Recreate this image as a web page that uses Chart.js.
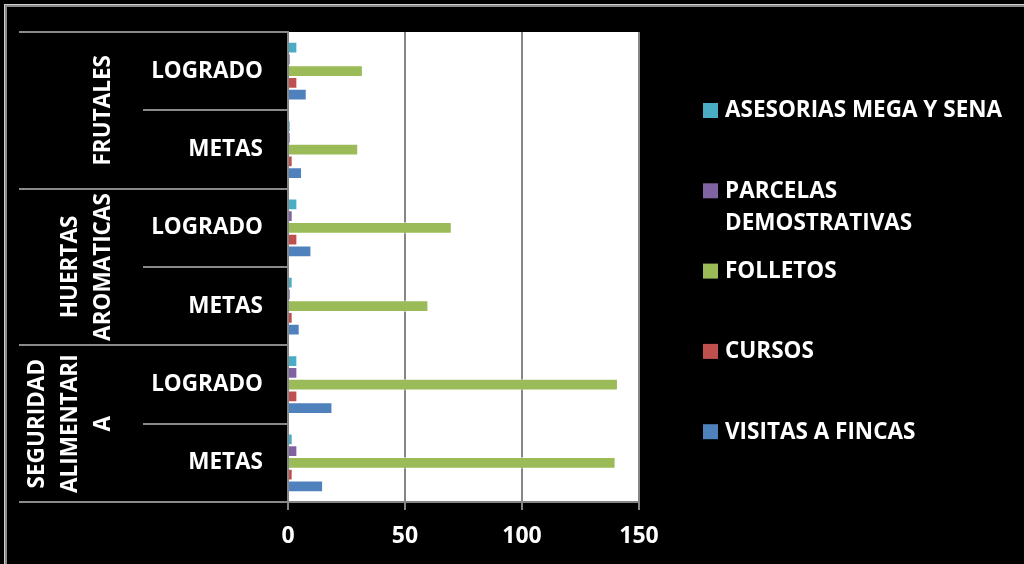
<!DOCTYPE html>
<html>
<head>
<meta charset="utf-8">
<script src="https://cdn.jsdelivr.net/npm/chart.js@4.4.0/dist/chart.umd.min.js"></script>
<style>
  html, body { margin: 0; padding: 0; background: #000; }
  #wrap { width: 1024px; height: 564px; position: relative; }
</style>
</head>
<body>
<div id="wrap"><canvas id="myChart" width="1024" height="564"></canvas></div>
<script>
//! data (categories listed top to bottom)
const groups = [['FRUTALES'], ['HUERTAS', 'AROMATICAS'], ['SEGURIDAD', 'ALIMENTARI', 'A']];
const stages = ['LOGRADO', 'METAS'];
const seriesNames = [['ASESORIAS MEGA Y SENA'], ['PARCELAS', 'DEMOSTRATIVAS'], ['FOLLETOS'], ['CURSOS'], ['VISITAS A FINCAS']];
const asesorias = [4, 1, 4, 2, 4, 2];
const parcelas = [1, 1, 2, 1, 4, 4];
const folletos = [32, 30, 70, 60, 141, 140];
const cursos = [4, 2, 4, 2, 4, 2];
const visitas = [8, 6, 10, 5, 19, 15];
const xTicks = [0, 50, 100, 150];

const colors = ['#4BACC6', '#8064A2', '#9BBB59', '#C0504D', '#4F81BD'];
const FONT = '"Open Sans", sans-serif';

const labels = [];
groups.forEach(() => stages.forEach(s => labels.push(s)));

const seriesData = [asesorias, parcelas, folletos, cursos, visitas];
const datasets = seriesData.map((d, i) => ({
  label: seriesNames[i].join(' '),
  data: d,
  backgroundColor: colors[i],
  borderColor: 'rgba(255,255,255,0.55)',
  borderWidth: 1,
  barPercentage: 1,
  categoryPercentage: 0.75
}));

// background, frame, group labels, separators, legend
const decor = {
  id: 'decor',
  beforeDraw(chart) {
    const ctx = chart.ctx;
    const a = chart.chartArea;
    ctx.save();
    ctx.fillStyle = '#000';
    ctx.fillRect(0, 0, chart.width, chart.height);
    ctx.fillStyle = '#fff';
    ctx.fillRect(a.left, a.top, a.right - a.left, a.bottom - a.top);
    // outer frame
    ctx.fillStyle = '#d0d0d0';
    ctx.fillRect(4, 4, chart.width - 4, 1);
    ctx.fillRect(4, 4, 1, chart.height - 4);
    ctx.fillStyle = '#8a8a8a';
    ctx.fillRect(5, 5, chart.width - 5, 2);
    ctx.fillRect(5, 5, 2, chart.height - 5);
    ctx.restore();
  },
  afterDraw(chart) {
    const ctx = chart.ctx;
    const a = chart.chartArea;
    const y = chart.scales.y;
    const half = (y.getPixelForValue(1) - y.getPixelForValue(0)) / 2;
    ctx.save();
    ctx.strokeStyle = '#8a8a8a';
    ctx.lineWidth = 2;
    for (let i = 0; i <= labels.length; i++) {
      const py = Math.round(i < labels.length ? y.getPixelForValue(i) - half : y.getPixelForValue(i - 1) + half);
      const x0 = i % stages.length === 0 ? 19 : 143;
      ctx.beginPath();
      ctx.moveTo(x0, py);
      ctx.lineTo(a.left, py);
      ctx.stroke();
    }
    // group labels, rotated
    ctx.fillStyle = '#fff';
    ctx.font = 'bold 22.5px ' + FONT;
    ctx.textAlign = 'center';
    ctx.textBaseline = 'middle';
    groups.forEach((g, gi) => {
      const first = gi * stages.length;
      const cy = (y.getPixelForValue(first) + y.getPixelForValue(first + stages.length - 1)) / 2;
      g.forEach((line, li) => {
        const cx = 104 - (g.length - 1 - li) * 33;
        ctx.save();
        ctx.translate(cx, cy);
        ctx.rotate(-Math.PI / 2);
        ctx.fillText(line, 0, 0);
        ctx.restore();
      });
    });
    // legend
    ctx.font = 'bold 22.5px ' + FONT;
    ctx.textAlign = 'left';
    chart.data.datasets.forEach((ds, i) => {
      const ly = 110 + i * 80.3;
      ctx.fillStyle = ds.backgroundColor;
      ctx.fillRect(703, ly - 7, 15, 15);
      ctx.fillStyle = '#fff';
      seriesNames[i].forEach((t, k) => ctx.fillText(t, 725, ly + k * 32 + 1));
    });
    ctx.restore();
  }
};

new Chart('myChart', {
  type: 'bar',
  data: { labels: labels, datasets: datasets },
  options: {
    indexAxis: 'y',
    responsive: false,
    animation: false,
    layout: { padding: { left: 0, top: 32, right: 385, bottom: 0 } },
    plugins: {
      legend: { display: false },
      tooltip: { enabled: false }
    },
    scales: {
      x: {
        min: 0,
        max: 150,
        afterFit: s => { s.height = 62; },
        afterBuildTicks: s => { s.ticks = xTicks.map(v => ({ value: v })); },
        grid: { color: '#868686', lineWidth: 2, tickLength: 8 },
        border: { color: '#868686', width: 2 },
        ticks: { color: '#fff', padding: 13, font: { family: FONT, size: 23, weight: 'bold' } }
      },
      y: {
        afterFit: s => { s.width = 288; },
        grid: { display: false },
        border: { color: '#868686', width: 2 },
        ticks: { color: '#fff', padding: 17, font: { family: FONT, size: 22.5, weight: 'bold' } }
      }
    }
  },
  plugins: [decor]
});
</script>
</body>
</html>
